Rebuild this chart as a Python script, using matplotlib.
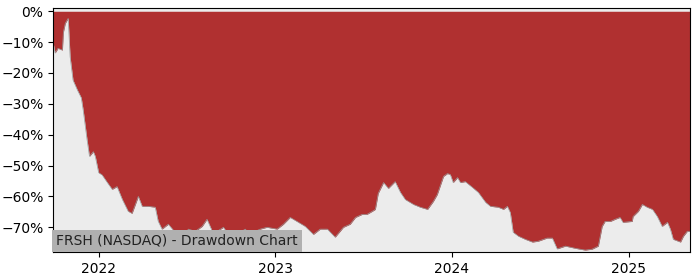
import numpy as np
import pandas as pd
import matplotlib
matplotlib.use("Agg")
import matplotlib.pyplot as plt
import matplotlib.dates as mdates
from matplotlib.ticker import PercentFormatter

# ====================== Данные ======================
ticker_label = "FRSH (NASDAQ) - Drawdown Chart"

dates = [
    "2021-09-29", "2021-10-03", "2021-10-09", "2021-10-18", "2021-10-20", "2021-10-24",
    "2021-10-30", "2021-11-03", "2021-11-09", "2021-11-18", "2021-11-26", "2021-11-30",
    "2021-12-08", "2021-12-13", "2021-12-21", "2021-12-25", "2022-01-01", "2022-01-08",
    "2022-01-19", "2022-01-29", "2022-02-08", "2022-02-19", "2022-03-03", "2022-03-11",
    "2022-03-24", "2022-04-01", "2022-04-13", "2022-04-28", "2022-05-04", "2022-05-12",
    "2022-05-25", "2022-06-08", "2022-06-19", "2022-06-29", "2022-07-05", "2022-07-20",
    "2022-08-03", "2022-08-13", "2022-08-24", "2022-09-03", "2022-09-16", "2022-09-26",
    "2022-10-14", "2022-10-31", "2022-11-10", "2022-11-21", "2022-12-01", "2022-12-15",
    "2023-01-05", "2023-01-18", "2023-02-01", "2023-02-15", "2023-03-04", "2023-03-21",
    "2023-04-04", "2023-04-19", "2023-04-25", "2023-05-05", "2023-05-22", "2023-06-05",
    "2023-06-16", "2023-06-30", "2023-07-10", "2023-07-21", "2023-07-27", "2023-08-02",
    "2023-08-13", "2023-08-23", "2023-09-06", "2023-09-17", "2023-09-27", "2023-10-14",
    "2023-10-28", "2023-11-12", "2023-11-24", "2023-12-02", "2023-12-15", "2023-12-23",
    "2023-12-29", "2024-01-04", "2024-01-13", "2024-01-19", "2024-01-29", "2024-02-13",
    "2024-02-25", "2024-03-11", "2024-03-21", "2024-04-06", "2024-04-17", "2024-04-25",
    "2024-05-01", "2024-05-07", "2024-05-18", "2024-06-01", "2024-06-16", "2024-06-28",
    "2024-07-16", "2024-07-27", "2024-08-06", "2024-08-23", "2024-09-12", "2024-10-03",
    "2024-10-17", "2024-10-30", "2024-11-07", "2024-11-13", "2024-11-24", "2024-12-04",
    "2024-12-14", "2024-12-20", "2025-01-08", "2025-01-10", "2025-01-21", "2025-01-29",
    "2025-02-08", "2025-02-19", "2025-03-01", "2025-03-11", "2025-03-22", "2025-03-28",
    "2025-04-03", "2025-04-18", "2025-04-24", "2025-05-02", "2025-05-08",
]

drawdown = [
    -10.3, -13.5, -12.0, -12.6, -6.8, -3.9,
    -2.3, -14.8, -22.3, -25.5, -28.0, -32.0,
    -41.6, -47.0, -45.5, -47.0, -52.3, -53.0,
    -55.5, -57.7, -56.8, -61.0, -64.8, -65.5,
    -60.0, -63.2, -63.2, -63.5, -68.0, -70.6,
    -69.0, -71.6, -76.5, -74.0, -70.6, -71.3,
    -69.7, -67.4, -71.3, -71.3, -70.0, -72.3,
    -72.3, -70.6, -72.3, -71.3, -70.6, -70.0,
    -70.6, -69.0, -66.8, -68.1, -69.7, -72.3,
    -70.6, -70.6, -71.6, -73.2, -70.0, -69.0,
    -66.8, -65.8, -65.8, -64.8, -64.2, -59.0,
    -55.5, -57.4, -55.2, -58.7, -61.0, -62.6,
    -63.5, -64.2, -61.6, -59.4, -53.5, -52.6,
    -52.9, -55.5, -53.9, -55.5, -55.2, -57.1,
    -58.7, -61.9, -63.2, -63.5, -64.2, -63.2,
    -65.2, -71.6, -72.9, -73.9, -74.8, -74.5,
    -73.5, -73.5, -77.0, -76.1, -76.8, -77.4,
    -77.1, -76.1, -69.7, -68.1, -68.1, -67.4,
    -66.8, -68.4, -68.1, -66.5, -64.8, -62.6,
    -63.5, -64.2, -66.5, -69.7, -68.4, -70.6,
    -73.9, -74.8, -72.9, -71.3, -71.3,
]
# =========================================================================

x = pd.to_datetime(dates)
dd = np.array(drawdown)

fig = plt.figure(figsize=(7, 2.8), dpi=100)
ax = fig.add_axes([0.076, 0.099, 0.910, 0.874])

ax.set_facecolor("#ececec")
ax.fill_between(x, dd, 0, color="#b03030", linewidth=0)
ax.plot(x, dd, color="#9a9a9a", linewidth=0.5)

ax.set_xlim(x[0], x[-1])
ax.set_ylim(-78.1, 1.2)

ax.yaxis.set_major_formatter(PercentFormatter(xmax=100, decimals=0))
ax.set_yticks(np.arange(-70, 1, 10))
ax.xaxis.set_major_locator(mdates.YearLocator())
ax.xaxis.set_major_formatter(mdates.DateFormatter("%Y"))
ax.tick_params(labelsize=10)

ax.text(0.004, 0.018, ticker_label, transform=ax.transAxes, fontsize=10,
        color="#222222", ha="left", va="bottom",
        bbox=dict(facecolor="#b0b0b0", edgecolor="none", pad=3))

fig.savefig("out.png", dpi=100)
